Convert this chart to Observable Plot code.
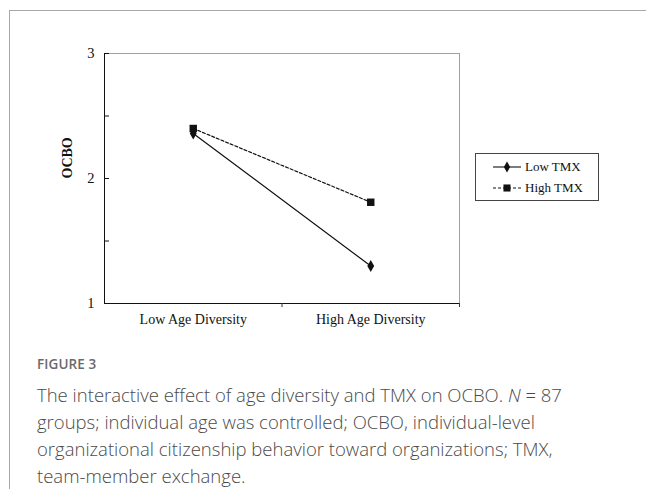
<!DOCTYPE html>
<html>
<head>
<meta charset="utf-8">
<script src="https://cdn.jsdelivr.net/npm/d3@7"></script>
<script src="https://cdn.jsdelivr.net/npm/@observablehq/plot@0.6"></script>
<style>
  html, body { margin: 0; padding: 0; background: #fff; }
  body { width: 646px; height: 489px; position: relative; overflow: hidden; }
  #frame { position: absolute; left: 9px; top: 10px; right: -5px; bottom: -5px;
           border-left: 1px solid #a8a8a8; border-top: 1px solid #a8a8a8; }
  #chart { position: absolute; left: 0; top: 0; }
  #legend { position: absolute; left: 475px; top: 153px; width: 122px; height: 46px;
            border: 1px solid #444; font-family: "Liberation Serif", serif; font-size: 13px; color: #111; }
  #legend .row { position: absolute; left: 17px; height: 16px; display: flex; align-items: center; }
  #legend svg { margin-right: 3px; }
  #caption { position: absolute; left: 37px; top: 355px; width: 605px; font-family: "Open Sans", sans-serif; color: #555; }
  #caption .fig { font-size: 13.5px; font-weight: 600; color: #6a6a6a; letter-spacing: 0.1px; margin-bottom: 8px; }
  #caption .txt { font-size: 18.5px; font-weight: 300; line-height: 27px; color: #4a4a4a; white-space: nowrap; }
</style>
</head>
<body>
<div id="frame"></div>
<div id="chart"></div>
<div id="legend"></div>
<div id="caption">
  <div class="fig">FIGURE 3</div>
  <div class="txt">The interactive effect of age diversity and TMX on OCBO. <i>N</i> = 87<br>groups; individual age was controlled; OCBO, individual-level<br>organizational citizenship behavior toward organizations; TMX,<br>team-member exchange.</div>
</div>
<script>
// Data
const categories = ["Low Age Diversity", "High Age Diversity"];
const series = ["Low TMX", "High TMX"];
const lowTMX = [2.36, 1.30];
const highTMX = [2.40, 1.81];
const yTicks = [1, 2, 3];
const yMinorTicks = [1, 1.5, 2, 2.5, 3];

const rows = [];
categories.forEach((c, i) => {
  rows.push({series: "Low TMX", idx: i + 0.5, cat: c, value: lowTMX[i]});
  rows.push({series: "High TMX", idx: i + 0.5, cat: c, value: highTMX[i]});
});
const catPos = categories.map((c, i) => i + 0.5);
const boundaries = categories.map((c, i) => i + 1);

const serif = "Liberation Serif, Times New Roman, serif";

const chart = Plot.plot({
  width: 646,
  height: 340,
  marginLeft: 104,
  marginRight: 187,
  marginTop: 53,
  marginBottom: 37,
  style: {fontFamily: serif, fontSize: "14px", color: "#111", background: "transparent", overflow: "visible"},
  x: {type: "linear", domain: [0, categories.length]},
  y: {domain: [1, 3]},
  marks: [
    Plot.frame({stroke: "#a0a0a0"}),
    Plot.ruleX([0], {stroke: "#111"}),
    Plot.ruleY([1], {stroke: "#111"}),
    // inward y ticks
    Plot.axisY({ticks: yMinorTicks, tickSize: 5, dx: 5, tickFormat: () => "", label: null, stroke: "#111"}),
    // y tick labels
    Plot.axisY({ticks: yTicks, tickSize: 0, tickPadding: 10, tickFormat: d3.format("d"), label: null, fontSize: 14.5}),
    // x ticks at category boundaries
    Plot.axisX({ticks: boundaries, tickSize: 4, tickFormat: () => "", label: null, stroke: "#333"}),
    // x labels at category centres
    Plot.axisX({ticks: catPos, tickSize: 0, tickPadding: 11, tickFormat: (d) => categories[Math.floor(d)], label: null, fontSize: 14}),
    Plot.text(["OCBO"], {frameAnchor: "left", rotate: -90, dx: -37, fontWeight: "bold", fontSize: 14, fill: "#111"}),
    Plot.line(rows.filter(d => d.series === "Low TMX"), {x: "idx", y: "value", stroke: "#111", strokeWidth: 1.2}),
    Plot.line(rows.filter(d => d.series === "High TMX"), {x: "idx", y: "value", stroke: "#111", strokeWidth: 1.2, strokeDasharray: "3,2"}),
    Plot.dot(rows.filter(d => d.series === "Low TMX"), {x: "idx", y: "value", symbol: "diamond", r: 3.6, fill: "#111", stroke: "none"}),
    Plot.dot(rows.filter(d => d.series === "High TMX"), {x: "idx", y: "value", symbol: "square", r: 4.2, fill: "#111", stroke: "none"})
  ]
});
document.getElementById("chart").appendChild(chart);

// Legend
const legend = document.getElementById("legend");
const legendSymbols = {"Low TMX": {dash: null, sym: d3.symbolDiamond, size: 34}, "High TMX": {dash: "3,2", sym: d3.symbolSquare, size: 50}};
series.forEach((s, i) => {
  const row = document.createElement("div");
  row.className = "row";
  row.style.top = (5 + i * 21) + "px";
  const svg = d3.create("svg").attr("width", 29).attr("height", 12);
  svg.append("line").attr("x1", 0).attr("x2", 28).attr("y1", 6).attr("y2", 6)
    .attr("stroke", "#111").attr("stroke-width", 1.1)
    .attr("stroke-dasharray", legendSymbols[s].dash);
  svg.append("path").attr("transform", "translate(14,6)")
    .attr("d", d3.symbol(legendSymbols[s].sym, legendSymbols[s].size)()).attr("fill", "#111");
  row.appendChild(svg.node());
  const t = document.createElement("span");
  t.textContent = s;
  row.appendChild(t);
  legend.appendChild(row);
});
</script>
</body>
</html>
